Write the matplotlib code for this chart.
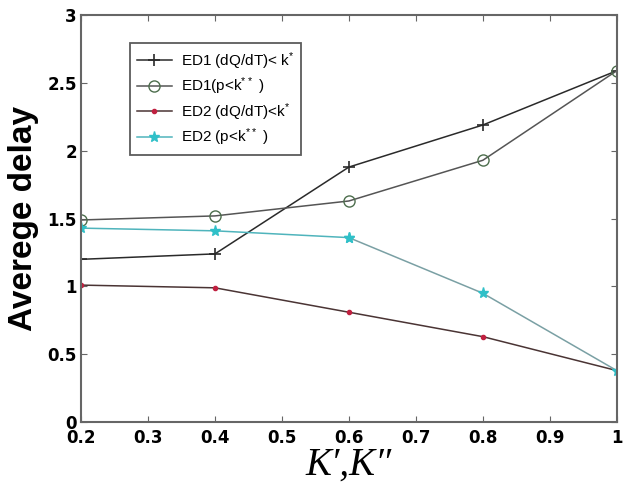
import matplotlib
matplotlib.use('Agg')
import matplotlib.pyplot as plt
import numpy as np

# data
kVals = [0.2, 0.4, 0.6, 0.8, 1.0]
ed1Rate = [1.20, 1.24, 1.88, 2.19, 2.59]
ed1Prob = [1.49, 1.52, 1.63, 1.93, 2.59]
ed2Rate = [1.01, 0.99, 0.81, 0.63, 0.38]
ed2Prob = [1.43, 1.41, 1.36, 0.95, 0.38]

seriesLabels = ['ED1 (dQ/dT)< k$^{*}$', 'ED1(p<k$^{**}$ )',
                'ED2 (dQ/dT)<k$^{*}$', 'ED2 (p<k$^{**}$ )']

xTicks = [0.2, 0.3, 0.4, 0.5, 0.6, 0.7, 0.8, 0.9, 1.0]
xTickLabels = ['0.2', '0.3', '0.4', '0.5', '0.6', '0.7', '0.8', '0.9', '1']
yTicks = [0, 0.5, 1, 1.5, 2, 2.5, 3]
yTickLabels = ['0', '0.5', '1', '1.5', '2', '2.5', '3']

plt.rcParams['mathtext.default'] = 'regular'

fig = plt.figure(figsize=(6.23, 4.88), dpi=100)
ax = fig.add_axes([0.130, 0.135, 0.860, 0.834])

ax.plot(kVals, ed1Rate, color='#2a2a2a', lw=1.1, marker='+', ms=9, mew=1.2,
        label=seriesLabels[0])
ax.plot(kVals, ed1Prob, color='#555555', lw=1.1, marker='o', ms=8,
        mfc='none', mec='#4d6e4d', mew=1.0, label=seriesLabels[1])
ax.plot(kVals, ed2Rate, color='#4a3434', lw=1.1, marker='.', ms=6,
        mfc='#c02040', mec='#c02040', label=seriesLabels[2])
# cyan series: line fades to grey after the third point
ax.plot(kVals[2:], ed2Prob[2:], color='#7aa0a4', lw=1.1, marker='*', ms=8,
        mfc='#30c0c8', mec='#30c0c8')
ax.plot(kVals[:3], ed2Prob[:3], color='#4fb4bc', lw=1.1, marker='*', ms=8,
        mfc='#30c0c8', mec='#30c0c8', label=seriesLabels[3])

ax.set_xlim(0.2, 1.0)
ax.set_ylim(0, 3)
ax.set_xticks(xTicks)
ax.set_xticklabels(xTickLabels, fontsize=12, fontweight='bold')
ax.set_yticks(yTicks)
ax.set_yticklabels(yTickLabels, fontsize=12, fontweight='bold')
ax.tick_params(direction='in', length=4, color='#666666', top=True,
               right=True, pad=3)
ax.tick_params(axis='x', pad=5)
for s in ax.spines.values():
    s.set_color('#666666')
    s.set_linewidth(1.5)

ax.set_ylabel('Averege delay', fontsize=24, fontweight='bold',
              family=['Liberation Sans', 'DejaVu Sans'], labelpad=6)
ax.set_xlabel('K\u2032,K\u2033', fontsize=28, style='italic',
              family=['Liberation Serif', 'DejaVu Serif'], labelpad=0)

leg = ax.legend(loc='upper left', bbox_to_anchor=(0.091, 0.931),
                prop={'family': ['Liberation Sans', 'DejaVu Sans'], 'size': 11},
                frameon=True, fancybox=False, borderpad=0.45,
                labelspacing=0.25, handlelength=2.3, handletextpad=0.6,
                borderaxespad=0)
leg.get_frame().set_edgecolor('#333333')
leg.get_frame().set_linewidth(1.3)

fig.savefig('out.png', dpi=100)
